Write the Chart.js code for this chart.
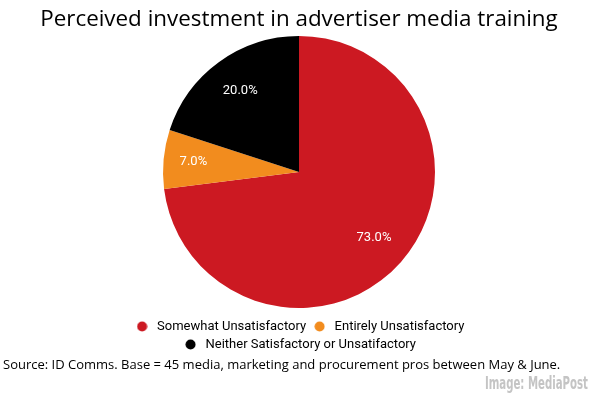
<!DOCTYPE html>
<html>
<head>
<meta charset="utf-8">
<script src="https://cdn.jsdelivr.net/npm/chart.js@4/dist/chart.umd.min.js"></script>
<style>
  html, body { margin: 0; padding: 0; background: #fff; }
  #wrap { position: relative; width: 600px; height: 395px; overflow: hidden; background: #fff; }
  #chart { position: absolute; left: 0; top: 0; }
  .txt { position: absolute; white-space: nowrap; }
  #title { left: 0; width: 598px; top: 4px; text-align: center; font-family: "Open Sans", sans-serif; font-size: 22.4px; line-height: 28px; color: #000; }
  #source { left: 3px; top: 355px; font-family: "Open Sans", sans-serif; font-size: 13px; line-height: 18px; color: #000; }
  #credit { right: 12px; top: 373px; font-family: "Liberation Sans Narrow", "DejaVu Sans Condensed", sans-serif; font-weight: bold; font-size: 17px; line-height: 20px; color: #c4c4c4; transform-origin: right center; }
</style>
</head>
<body>
<div id="wrap">
  <canvas id="chart" width="600" height="395"></canvas>
  <div id="title" class="txt">Perceived investment in advertiser media training</div>
  <div id="source" class="txt">Source: ID Comms. Base = 45 media, marketing and procurement pros between May &amp; June.</div>
  <div id="credit" class="txt">Image: MediaPost</div>
</div>
<script>
const categories = ["Somewhat Unsatisfactory", "Entirely Unsatisfactory", "Neither Satisfactory or Unsatifactory"];
const shares = [73.0, 7.0, 20.0];
const sliceColors = ["#cc1922", "#f28c1e", "#000000"];

function dotImage(color) {
  const c = document.createElement('canvas');
  c.width = 11; c.height = 11;
  const g = c.getContext('2d');
  g.fillStyle = color;
  g.beginPath();
  g.arc(5.5, 5.5, 5, 0, Math.PI * 2);
  g.fill();
  return c;
}
const dots = sliceColors.map(dotImage);

const sliceLabels = {
  id: 'sliceLabels',
  afterDatasetsDraw(chart) {
    const ctx = chart.ctx;
    const meta = chart.getDatasetMeta(0);
    const data = chart.data.datasets[0].data;
    ctx.save();
    ctx.fillStyle = '#ffffff';
    ctx.font = '13px Roboto, sans-serif';
    ctx.textAlign = 'center';
    ctx.textBaseline = 'middle';
    meta.data.forEach((arc, i) => {
      const p = arc.getProps(['x', 'y', 'startAngle', 'endAngle', 'outerRadius'], true);
      const mid = (p.startAngle + p.endAngle) / 2;
      const share = (p.endAngle - p.startAngle) / (Math.PI * 2);
      const r = p.outerRadius * (share < 0.1 ? 0.78 : 0.735);
      ctx.fillText(data[i].toFixed(1) + '%', p.x + Math.cos(mid) * r, p.y + Math.sin(mid) * r);
    });
    ctx.restore();
  }
};

new Chart(document.getElementById('chart'), {
  type: 'pie',
  data: {
    labels: categories,
    datasets: [{
      data: shares,
      backgroundColor: sliceColors,
      borderWidth: 0,
      radius: '95.1%'
    }]
  },
  options: {
    responsive: false,
    animation: false,
    layout: { padding: { top: 29, bottom: 34, left: 99, right: 101 } },
    plugins: {
      tooltip: { enabled: false },
      title: { display: false },
      legend: {
        position: 'bottom',
        labels: {
          usePointStyle: true,
          pointStyleWidth: 17,
          padding: 5,
          color: '#636363',
          font: { family: 'Roboto, sans-serif', size: 13 },
          generateLabels(chart) {
            return chart.data.labels.map((t, i) => ({
              text: t,
              fillStyle: sliceColors[i],
              strokeStyle: sliceColors[i],
              lineWidth: 0,
              pointStyle: dots[i],
              hidden: false,
              index: i
            }));
          }
        }
      }
    }
  },
  plugins: [sliceLabels]
});

function fitWidth(id, target) {
  const el = document.getElementById(id);
  const w = el.getBoundingClientRect().width;
  if (w > 0) el.style.transform = 'scaleX(' + (target / w) + ')';
}
fitWidth('credit', 103);
</script>
</body>
</html>
